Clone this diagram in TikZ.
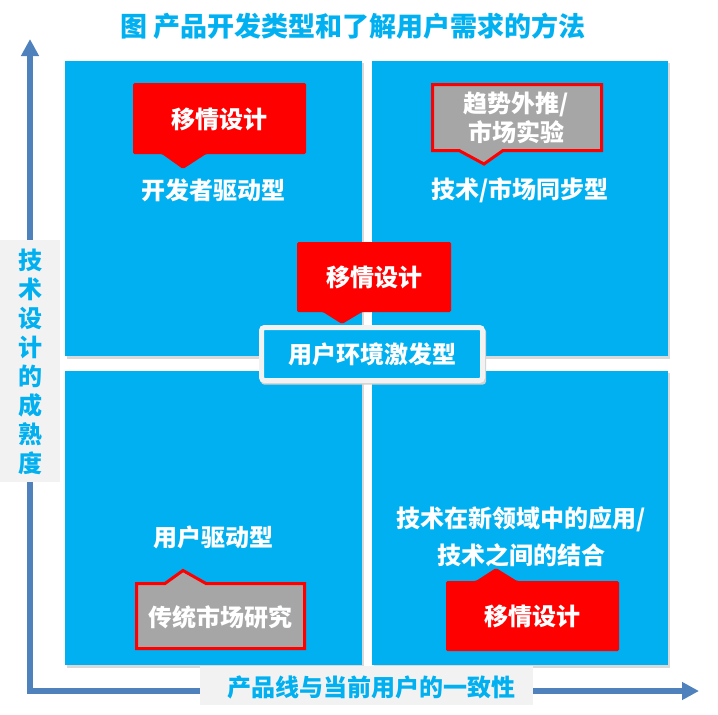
\documentclass[tikz,border=0pt]{standalone}
\usepackage{fontspec}
\setmainfont{Noto Sans CJK SC}
\usetikzlibrary{arrows.meta}
\definecolor{quad}{HTML}{00B0F0}
\definecolor{axisblue}{HTML}{4F81BD}
\definecolor{lbl}{HTML}{F2F2F2}
\definecolor{callgray}{HTML}{A6A6A6}
\definecolor{callred}{HTML}{FF0000}
\tikzset{
  quadbox/.style={fill=quad, draw=none},
  quadshadow/.style={fill=black!15, draw=none},
  redcall/.style={fill=callred, draw=none, rounded corners=1.5pt},
  graycall/.style={fill=callgray, draw=callred, line width=3pt, line join=miter},
  wtext/.style={text=white, font=\fontsize{24}{29}\selectfont\bfseries, align=center, inner sep=0pt},
  axisline/.style={draw=axisblue, line width=5.5pt, -{Triangle[length=17pt,width=17pt]}},
  axislabel/.style={fill=lbl, draw=none},
  axtext/.style={text=quad, font=\fontsize{24}{29}\selectfont\bfseries, align=center, inner sep=0pt},
}
\begin{document}
\begin{tikzpicture}[x=1pt,y=-1pt]
\useasboundingbox (0,0) rectangle (718,715);
% title
\node[text=quad, font=\fontsize{27}{32}\selectfont\bfseries, inner sep=0pt] (title) at (353,26) {图 产品开发类型和了解用户需求的方法};
% axes
\coordinate (O) at (30,691);
\coordinate (ytip) at (30,39);
\coordinate (xtip) at (699,691);
\draw[axisline] ([yshift=2.75pt]O) -- (ytip);
\draw[axisline] ([xshift=-2.75pt]O) -- (xtip);
% quadrant shadows
\fill[quadshadow] (66.5,63) rectangle (364,358.5);
\fill[quadshadow] (373.5,63) rectangle (670,358.5);
\fill[quadshadow] (66.5,373) rectangle (364,667.5);
\fill[quadshadow] (373.5,373) rectangle (670,667.5);
% quadrants
\path[quadbox] (65,61) rectangle (362,356) node[midway] (qtl) {};
\path[quadbox] (372,61) rectangle (668,356) node[midway] (qtr) {};
\path[quadbox] (65,371) rectangle (362,665) node[midway] (qbl) {};
\path[quadbox] (372,371) rectangle (668,665) node[midway] (qbr) {};
% axis labels
\path[axislabel] (0,240) rectangle (60,482);
\node[axtext] (ylabel) at (30,361.5) {技\\术\\设\\计\\的\\成\\熟\\度};
\path[axislabel] (200,666) rectangle (533,705);
\node[axtext] (xlabel) at (371,687) {产品线与当前用户的一致性};
% TL
\path[redcall] (133,83) -- (306,83) -- (306,154) -- (206,154) -- (183,169) -- (162,154) -- (133,154) -- cycle;
\node[wtext] (c1) at (219.5,119) {移情设计};
\node[wtext] (t1) at (213,190) {开发者驱动型};
% TR
\path[graycall] (432.5,84.5) -- (601.5,84.5) -- (601.5,150.5) -- (503,150.5) -- (484,164) -- (459,150.5) -- (432.5,150.5) -- cycle;
\node[wtext] (c2) at (516,117.5) {趋势外推/\\市场实验};
\node[wtext] (t2) at (520,190) {技术/市场同步型};
% BL
\node[wtext] (t3) at (213,537) {用户驱动型};
\path[graycall] (136.5,583.5) -- (165,583.5) -- (183,570.5) -- (206,583.5) -- (304.5,583.5) -- (304.5,648.5) -- (136.5,648.5) -- cycle;
\node[wtext] (c3) at (220,617) {传统市场研究};
% BR
\node[wtext, font=\fontsize{24}{37}\selectfont\bfseries] (t4) at (521,536.5) {技术在新领域中的应用/\\技术之间的结合};
\path[redcall] (446,581) -- (476,581) -- (496,568) -- (517,581) -- (619,581) -- (619,651) -- (446,651) -- cycle;
\node[wtext] (c4) at (532.5,616.5) {移情设计};
% center
\path[redcall] (297,242) -- (451,242) -- (451,312) -- (362,312) -- (342,324) -- (323,312) -- (297,312) -- cycle;
\node[wtext] (c5) at (374,277.5) {移情设计};
\fill[black!18, rounded corners=3pt] (261,328.5) rectangle (486,384.5);
\draw[fill=quad, draw=lbl, line width=5pt, rounded corners=3pt] (261.5,327.5) rectangle (482.5,380.5);
\node[wtext] (t5) at (372,354) {用户环境激发型};
\end{tikzpicture}
\end{document}
